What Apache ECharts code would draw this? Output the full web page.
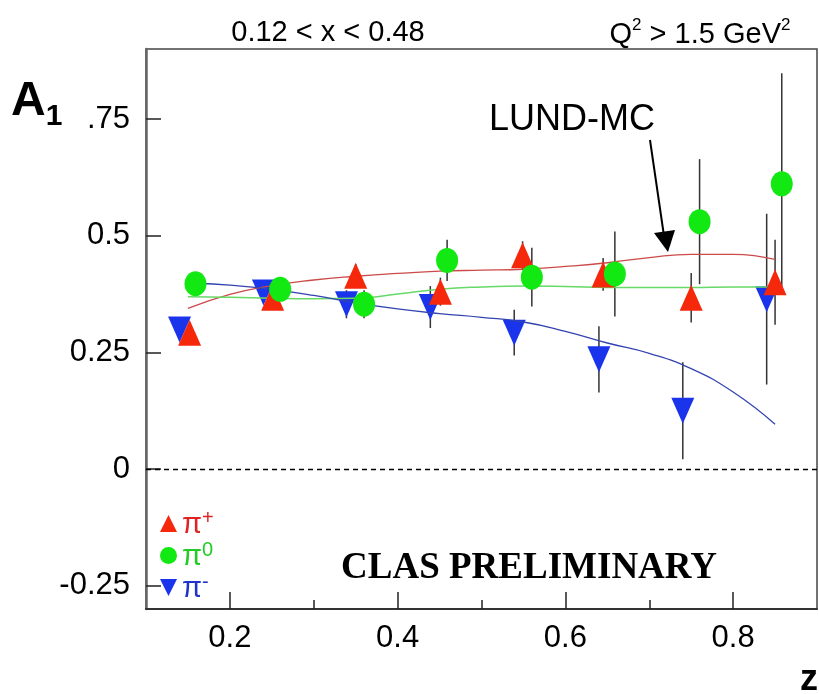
<!DOCTYPE html>
<html><head><meta charset="utf-8">
<script src="https://cdn.jsdelivr.net/npm/echarts@6/dist/echarts.min.js"></script>
<style>html,body{margin:0;padding:0;background:#fff}#c{width:819px;height:694px}</style>
</head><body><div id="c"></div>
<script>
// ---- data ----
const piPlusZ   = [0.152, 0.251, 0.350, 0.451, 0.549, 0.645, 0.750, 0.850];
const piPlusA1  = [0.292, 0.367, 0.414, 0.380, 0.458, 0.417, 0.367, 0.400];
const piPlusErr = [0.020, 0.020, 0.025, 0.030, 0.030, 0.035, 0.053, 0.091];

const piZeroZ   = [0.159, 0.260, 0.360, 0.459, 0.560, 0.659, 0.760, 0.858];
const piZeroA1  = [0.397, 0.385, 0.353, 0.447, 0.411, 0.418, 0.530, 0.611];
const piZeroErr = [0.020, 0.020, 0.030, 0.044, 0.063, 0.091, 0.134, 0.237];

const piMinusZ   = [0.140, 0.240, 0.339, 0.439, 0.539, 0.640, 0.740, 0.840];
const piMinusA1  = [0.299, 0.378, 0.353, 0.347, 0.292, 0.235, 0.125, 0.364];
const piMinusErr = [0.020, 0.020, 0.030, 0.045, 0.049, 0.071, 0.104, 0.183];

const lundPlusZ  = [0.15, 0.20, 0.25, 0.30, 0.35, 0.40, 0.45, 0.50, 0.55, 0.60, 0.65, 0.70, 0.75, 0.80, 0.85];
const lundPlusA1 = [0.344, 0.374, 0.393, 0.405, 0.413, 0.419, 0.424, 0.426, 0.428, 0.434, 0.442, 0.453, 0.460, 0.460, 0.449];
const lundZeroZ  = [0.15, 0.20, 0.25, 0.30, 0.35, 0.40, 0.45, 0.50, 0.55, 0.60, 0.65, 0.70, 0.75, 0.80, 0.85];
const lundZeroA1 = [0.369, 0.368, 0.366, 0.365, 0.366, 0.375, 0.385, 0.390, 0.392, 0.391, 0.389, 0.389, 0.389, 0.390, 0.390];
const lundMinusZ  = [0.16, 0.20, 0.25, 0.30, 0.35, 0.40, 0.45, 0.50, 0.55, 0.60, 0.65, 0.70, 0.75, 0.80, 0.85];
const lundMinusA1 = [0.398, 0.394, 0.385, 0.372, 0.356, 0.343, 0.333, 0.325, 0.315, 0.295, 0.270, 0.248, 0.215, 0.165, 0.096];

const xTickLabels = [0.2, 0.4, 0.6, 0.8];
const xMinorTicks = [0.3, 0.5, 0.7];
const yTickValues = [-0.25, 0, 0.25, 0.5, 0.75];
const yTickLabels = ['-0.25', '0', '0.25', '0.5', '.75'];

// ---- chart ----
const RED = '#f5280c', GREEN = '#12e812', BLUE = '#1a34ec';
const SANS = 'Liberation Sans, Arial, Helvetica, sans-serif';
const DOWN = 'path://M0,0 L10,0 L5,10 Z';

function pts(z, y) { return z.map((v, i) => [v, y[i]]); }
function errData(z, y, e) { return z.map((v, i) => [v, y[i] - e[i], y[i] + e[i]]); }
function errSeries(data) {
  return {
    type: 'custom', data: data, silent: true, z: 1,
    encode: { x: 0, y: [1, 2] },
    renderItem: function (params, api) {
      const x = api.value(0);
      const lo = api.coord([x, api.value(1)]);
      const hi = api.coord([x, api.value(2)]);
      return { type: 'line', shape: { x1: lo[0], y1: lo[1], x2: hi[0], y2: hi[1] },
               style: { stroke: '#333', lineWidth: 1.5 } };
    }
  };
}

const chart = echarts.init(document.getElementById('c'), null, { renderer: 'canvas' });
chart.setOption({
  animation: false,
  backgroundColor: '#fff',
  grid: { left: 146, top: 49, right: 2, bottom: 85, show: true, borderColor: '#444', borderWidth: 1.5 },
  xAxis: [{
    type: 'value', min: 0.1, max: 0.9, interval: 0.1,
    axisLine: { onZero: false, lineStyle: { color: '#333', width: 2 } },
    axisTick: { inside: true, length: 17, customValues: xTickLabels, lineStyle: { color: '#222', width: 1.5 } },
    axisLabel: { customValues: xTickLabels, margin: 14, fontSize: 31, fontFamily: SANS, color: '#000',
                 formatter: v => String(v) },
    splitLine: { show: false }
  }, {
    type: 'value', min: 0.1, max: 0.9, position: 'bottom',
    axisLine: { show: false, onZero: false },
    axisTick: { inside: true, length: 9, customValues: xMinorTicks, lineStyle: { color: '#222', width: 1.5 } },
    axisLabel: { show: false }, splitLine: { show: false }
  }],
  yAxis: {
    type: 'value', min: -0.3, max: 0.9,
    axisLine: { show: true, onZero: false, lineStyle: { color: '#666', width: 2.5 } },
    axisTick: { show: true, inside: true, length: 15, customValues: yTickValues, lineStyle: { color: '#222', width: 1.5 } },
    axisLabel: { customValues: yTickValues, margin: 16, fontSize: 31, fontFamily: SANS, color: '#000',
                 formatter: v => yTickLabels[yTickValues.indexOf(v)] },
    splitLine: { show: false }
  },
  legend: {
    orient: 'vertical', left: 155, top: 503, itemWidth: 17, itemHeight: 17, itemGap: 1,
    selectedMode: false,
    data: [
      { name: 'π+', icon: 'triangle', itemStyle: { color: RED, opacity: 1 }, textStyle: { color: '#e02222' } },
      { name: 'π0', icon: 'circle', itemStyle: { color: GREEN, opacity: 1 }, textStyle: { color: '#22cc22' } },
      { name: 'π-', icon: DOWN, itemStyle: { color: BLUE, opacity: 1 }, textStyle: { color: '#2233cc' } }
    ],
    formatter: n => '{p|π}{s|' + n.slice(1) + '}',
    textStyle: {
      rich: {
        p: { fontSize: 29, fontFamily: SANS, lineHeight: 31, verticalAlign: 'bottom' },
        s: { fontSize: 20, fontFamily: SANS, lineHeight: 31, verticalAlign: 'top', padding: [0, 0, 6, 0] }
      }
    }
  },
  series: [
    errSeries(errData(piMinusZ, piMinusA1, piMinusErr)),
    errSeries(errData(piPlusZ, piPlusA1, piPlusErr)),
    errSeries(errData(piZeroZ, piZeroA1, piZeroErr)),
    { name: 'π-', type: 'scatter', data: pts(piMinusZ, piMinusA1), symbol: DOWN, symbolSize: [23, 26],
      itemStyle: { color: BLUE, opacity: 1 }, z: 3 },
    { name: 'π+', type: 'scatter', data: pts(piPlusZ, piPlusA1), symbol: 'triangle', symbolSize: [23, 26],
      itemStyle: { color: RED, opacity: 1 }, z: 4 },
    { name: 'π0', type: 'scatter', data: pts(piZeroZ, piZeroA1), symbol: 'circle', symbolSize: [22, 25],
      itemStyle: { color: GREEN, opacity: 1 }, z: 5 },
    { type: 'line', data: pts(lundPlusZ, lundPlusA1), smooth: true, showSymbol: false, silent: true,
      lineStyle: { color: '#cc4a4a', width: 1.3 }, z: 4,
      markLine: { silent: true, symbol: 'none', label: { show: false },
                  lineStyle: { color: '#000', width: 1.4, type: [5, 4] }, data: [{ yAxis: 0 }] } },
    { type: 'line', data: pts(lundZeroZ, lundZeroA1), smooth: true, showSymbol: false, silent: true,
      lineStyle: { color: '#66d966', width: 1.5 }, z: 4 },
    { type: 'line', data: pts(lundMinusZ, lundMinusA1), smooth: true, showSymbol: false, silent: true,
      lineStyle: { color: '#3344b0', width: 1.3 }, z: 4 }
  ],
  graphic: [
    { type: 'text', x: 328, y: 33, style: { text: '0.12 < x < 0.48', font: '29px ' + SANS, fill: '#000',
      textAlign: 'center', textVerticalAlign: 'middle' } },
    { type: 'text', x: 700, y: 33, style: { text: '{n|Q}{s|2}{n| > 1.5 GeV}{s|2}', fill: '#000',
      textAlign: 'center', textVerticalAlign: 'middle',
      rich: { n: { fontSize: 29, fontFamily: SANS, lineHeight: 32, verticalAlign: 'bottom' },
              s: { fontSize: 17, fontFamily: SANS, lineHeight: 32, verticalAlign: 'top', padding: [0, 0, 8, 0] } } } },
    { type: 'text', x: 11, y: 82, style: { text: '{a|A}{b|1}', fill: '#000',
      rich: { a: { fontSize: 48, fontWeight: 'bold', fontFamily: SANS, verticalAlign: 'bottom', lineHeight: 44 },
              b: { fontSize: 30, fontWeight: 'bold', fontFamily: SANS, verticalAlign: 'bottom', lineHeight: 44, padding: [0,0,-6,0] } } } },
    { type: 'text', x: 572, y: 120, style: { text: 'LUND-MC', font: '36px ' + SANS, fill: '#000',
      textAlign: 'center', textVerticalAlign: 'middle' } },
    { type: 'line', shape: { x1: 650, y1: 140, x2: 664, y2: 236 }, style: { stroke: '#000', lineWidth: 2 } },
    { type: 'polygon', shape: { points: [[654, 233], [675, 230], [668, 252]] }, style: { fill: '#000' } },
    { type: 'text', x: 529, y: 568, style: { text: 'CLAS PRELIMINARY', font: 'bold 37px Liberation Serif, Times New Roman, serif',
      fill: '#000', textAlign: 'center', textVerticalAlign: 'middle' } },
    { type: 'text', x: 809, y: 680, style: { text: 'z', font: 'bold 36px ' + SANS, fill: '#000',
      textAlign: 'center', textVerticalAlign: 'middle' } }
  ]
});
</script>
</body></html>
